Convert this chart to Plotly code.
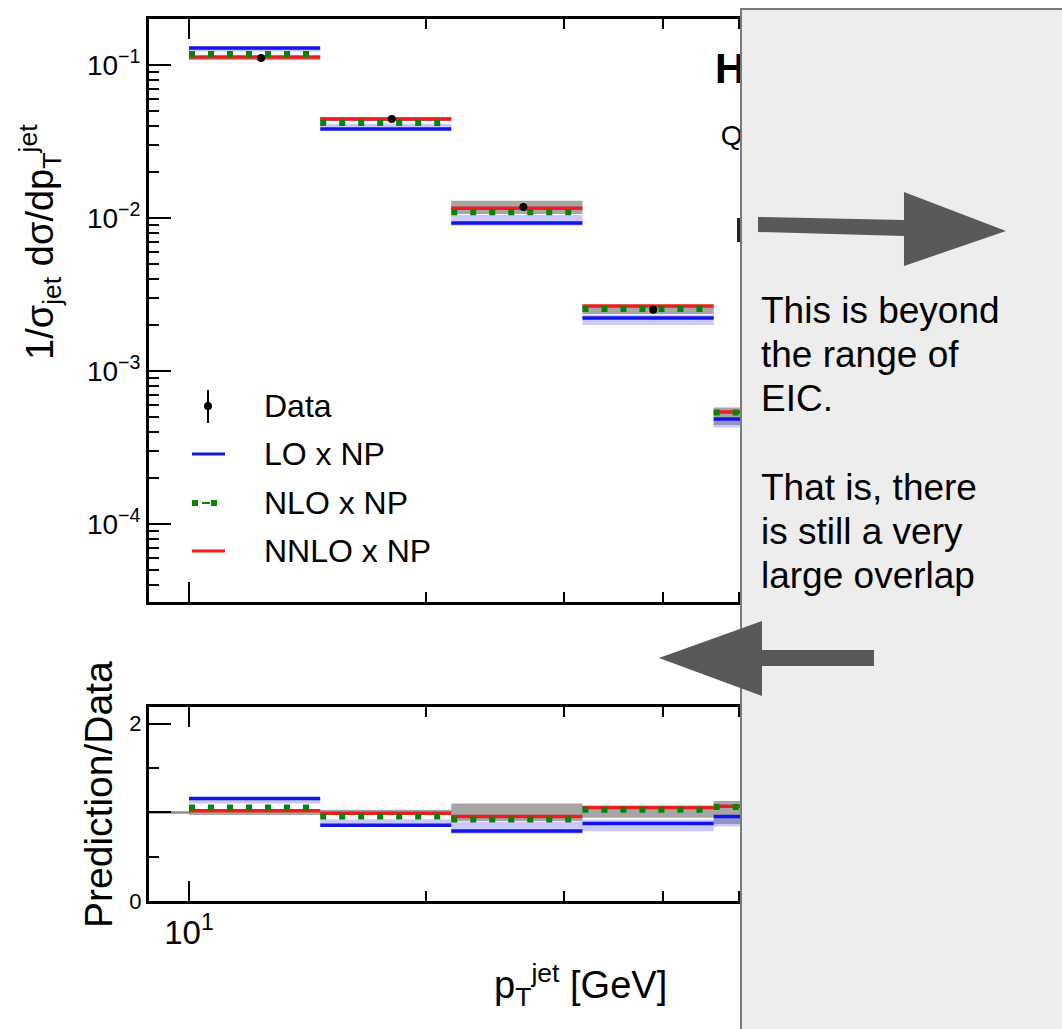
import plotly.graph_objects as go

# ---------------- data ----------------
bin_edges = [10.0, 14.68, 21.54, 31.62, 46.42, 68.13]
data_pt = [12.35, 18.1, 26.6, 38.9, 56.5]
data_val = [0.111, 0.0444, 0.0118, 0.00251, 0.00051]
data_stat = [0.0015, 0.0006, 0.0002, 0.00006, 0.00002]
data_unc = [0.03, 0.03, 0.10, 0.06, 0.13]          # relative syst. band

lo_val = [0.129, 0.0382, 0.00927, 0.00222, 0.000485]
nlo_val = [0.118, 0.0418, 0.0109, 0.00254, 0.000535]
nnlo_val = [0.113, 0.0443, 0.0116, 0.00266, 0.00054]

lo_ratio = [1.157, 0.854, 0.79, 0.876, 0.955]
nlo_ratio = [1.056, 0.955, 0.92, 1.03, 1.06]
nnlo_ratio = [1.02, 0.99, 0.955, 1.056, 1.07]

lo_band_lo = [0.95, 1.0, 0.96, 0.90, 0.88]
lo_band_hi = [1.0, 1.08, 1.13, 1.05, 1.0]

legend_labels = ["Data", "LO x NP", "NLO x NP", "NNLO x NP"]
box_lines = ["This is beyond", "the range of", "EIC.", "", "That is, there",
             "is still a very", "large overlap"]

# ---------------- geometry ----------------
W, H = 1062, 1029
ML, MR, MT, MB = 149, 62, 19, 128
PW, PH = W - ML - MR, H - MT - MB


def px(x):
    return (x - ML) / PW


def py(y):
    return (H - MB - y) / PH


FONT = "Liberation Sans, Arial, Helvetica, sans-serif"
BLUE, GREEN, RED = "#1414e6", "#0a820a", "#ee1c1c"
GREYBAND = "#a6a6a6"
LOBAND = "rgba(120,120,255,0.40)"


def steps(vals):
    xs, ys = [], []
    for i, v in enumerate(vals):
        xs += [bin_edges[i], bin_edges[i + 1], None]
        ys += [v, v, None]
    return xs, ys


def rects(lows, highs):
    xs, ys = [], []
    for i, (a, b) in enumerate(zip(lows, highs)):
        x0, x1 = bin_edges[i], bin_edges[i + 1]
        xs += [x0, x1, x1, x0, x0, None]
        ys += [a, a, b, b, a, None]
    return xs, ys


fig = go.Figure()


def add_panel(xa, ya, dvals, lo, nlo, nnlo, lo_ref):
    bx, by = rects([v * (1 - e) for v, e in zip(dvals, data_unc)],
                   [v * (1 + e) for v, e in zip(dvals, data_unc)])
    fig.add_trace(go.Scatter(x=bx, y=by, fill="toself", fillcolor=GREYBAND,
                             line=dict(width=0), mode="lines", xaxis=xa, yaxis=ya,
                             showlegend=False, hoverinfo="skip"))
    bx, by = rects([v * f for v, f in zip(lo_ref, lo_band_lo)],
                   [v * f for v, f in zip(lo_ref, lo_band_hi)])
    fig.add_trace(go.Scatter(x=bx, y=by, fill="toself", fillcolor=LOBAND,
                             line=dict(width=0), mode="lines", xaxis=xa, yaxis=ya,
                             showlegend=False, hoverinfo="skip"))
    for vals, col, dash, wd in [(lo, BLUE, "solid", 3.5), (nnlo, RED, "solid", 3.5),
                                (nlo, GREEN, "6px,13px", 6)]:
        sx, sy = steps(vals)
        fig.add_trace(go.Scatter(x=sx, y=sy, mode="lines",
                                 line=dict(color=col, width=wd, dash=dash),
                                 xaxis=xa, yaxis=ya, showlegend=False))


add_panel("x", "y", data_val, lo_val, nlo_val, nnlo_val, lo_val)
add_panel("x2", "y2", [1.0] * len(data_val), lo_ratio, nlo_ratio, nnlo_ratio, lo_ratio)

fig.add_trace(go.Scatter(x=data_pt, y=data_val, mode="markers",
                         marker=dict(color="black", size=8),
                         error_y=dict(type="data", array=data_stat, color="black",
                                      thickness=2, width=0),
                         xaxis="x", yaxis="y", showlegend=False))

# labels partly hidden behind the grey box
fig.add_trace(go.Scatter(x=[46.6], y=[0.089], mode="text", text=["<b>H1</b>"],
                         textposition="middle right",
                         textfont=dict(size=42, color="black", family=FONT),
                         xaxis="x", yaxis="y", showlegend=False))
fig.add_trace(go.Scatter(x=[47.4], y=[0.0335], mode="text",
                         text=["Q<sup>2</sup> > 150 GeV<sup>2</sup>"],
                         textposition="middle right",
                         textfont=dict(size=28, color="black", family=FONT),
                         xaxis="x", yaxis="y", showlegend=False))

# ---------------- axes ----------------
axis_common = dict(showline=True, linewidth=3, linecolor="black", mirror="ticks",
                   ticks="inside", tickwidth=2, tickcolor="black", showgrid=False,
                   zeroline=False)
x_minor = [20, 30, 40, 50, 60, 70, 80, 90]
y_minor = [m * 10 ** e for e in (-5, -4, -3, -2, -1) for m in range(2, 10)]

fig.update_layout(
    width=W, height=H, margin=dict(l=ML, r=MR, t=MT, b=MB),
    paper_bgcolor="white", plot_bgcolor="white", showlegend=False,
    font=dict(family=FONT, color="black"),
    xaxis=dict(axis_common, domain=[0, 1], anchor="y", type="log",
               range=[0.9492, 2.0305], tickvals=[10, 100], ticklen=20,
               showticklabels=False,
               minor=dict(tickmode="array", tickvals=x_minor, ticklen=10,
                          tickwidth=2, ticks="inside", tickcolor="black")),
    yaxis=dict(axis_common, domain=[0.339, 1], anchor="x", type="log",
               range=[-4.5098, -0.6993], tickvals=[1e-4, 1e-3, 1e-2, 1e-1],
               ticktext=["10<sup>−4</sup>", "10<sup>−3</sup>", "10<sup>−2</sup>",
                         "10<sup>−1</sup>"],
               ticklen=22, tickfont=dict(size=28, family=FONT, color="black"),
               minor=dict(tickmode="array", tickvals=y_minor, ticklen=10,
                          tickwidth=2, ticks="inside", tickcolor="black")),
    xaxis2=dict(axis_common, domain=[0, 1], anchor="y2", type="log",
                range=[0.9492, 2.0305], tickvals=[10, 100],
                ticktext=["10<sup>1</sup>", "10<sup>2</sup>"], ticklen=20,
                tickfont=dict(size=33, family=FONT, color="black"),
                minor=dict(tickmode="array", tickvals=x_minor, ticklen=10,
                           tickwidth=2, ticks="inside", tickcolor="black")),
    yaxis2=dict(axis_common, domain=[0, 0.22], anchor="x2", range=[0, 2.19],
                tickvals=[0, 1, 2], ticktext=["0", "", "2"], ticklen=22,
                tickfont=dict(size=22, family=FONT, color="black"),
                minor=dict(tickmode="array", tickvals=[0.5, 1.5], ticklen=10,
                           tickwidth=2, ticks="inside", tickcolor="black")),
)

shapes = []
shapes.append(dict(type="line", xref="x2 domain", yref="y2", x0=0, x1=1, y0=1, y1=1,
                   line=dict(color="#8c8c8c", width=2.5), layer="below"))

# legend glyphs
shapes += [
    dict(type="line", xref="paper", yref="paper", x0=px(208), x1=px(208),
         y0=py(390), y1=py(423), line=dict(color="black", width=2)),
    dict(type="circle", xref="paper", yref="paper", x0=px(204), x1=px(212),
         y0=py(402), y1=py(410), fillcolor="black", line=dict(width=0)),
    dict(type="line", xref="paper", yref="paper", x0=px(192), x1=px(225),
         y0=py(454), y1=py(454), line=dict(color=BLUE, width=3)),
    dict(type="rect", xref="paper", yref="paper", x0=px(192), x1=px(198),
         y0=py(500), y1=py(506), fillcolor=GREEN, line=dict(width=0)),
    dict(type="line", xref="paper", yref="paper", x0=px(202), x1=px(210),
         y0=py(503), y1=py(503), line=dict(color=GREEN, width=2)),
    dict(type="rect", xref="paper", yref="paper", x0=px(211), x1=px(217),
         y0=py(500), y1=py(506), fillcolor=GREEN, line=dict(width=0)),
    dict(type="line", xref="paper", yref="paper", x0=px(192), x1=px(225),
         y0=py(551), y1=py(551), line=dict(color=RED, width=3)),
]
shapes.append(dict(type="line", xref="paper", yref="paper", x0=px(738.5), x1=px(738.5),
                   y0=py(218), y1=py(242), line=dict(color="#222222", width=3)))

# grey overlay box
shapes.append(dict(type="rect", xref="paper", yref="paper", x0=px(741), x1=px(1075),
                   y0=py(1045), y1=py(9), fillcolor="#ededed",
                   line=dict(color="#7a7a7a", width=2), layer="above"))


def poly(points):
    return "M " + " L ".join(f"{px(a):.5f},{py(b):.5f}" for a, b in points) + " Z"


shapes.append(dict(type="path", xref="paper", yref="paper",
                   path=poly([(758, 217), (904, 220), (904, 192), (1006, 231),
                              (904, 266), (904, 236), (758, 232)]),
                   fillcolor="#595959", line=dict(width=0), layer="above"))
shapes.append(dict(type="path", xref="paper", yref="paper",
                   path=poly([(659, 658), (762, 621), (762, 650), (874, 650),
                              (874, 666), (762, 666), (762, 696)]),
                   fillcolor="#595959", line=dict(width=0), layer="above"))
fig.update_layout(shapes=shapes)

ann = []
for lab, yy in zip(legend_labels, [406, 454, 503, 551]):
    ann.append(dict(text=lab, xref="paper", yref="paper", x=px(262), y=py(yy),
                    xanchor="left", yanchor="middle", showarrow=False,
                    font=dict(size=32, family=FONT, color="black")))

for i, line in enumerate(box_lines):
    if not line:
        continue
    base = 322 + i * 44.3
    ann.append(dict(text=line, xref="paper", yref="paper", x=px(759), y=py(base - 12),
                    xanchor="left", yanchor="middle", showarrow=False,
                    font=dict(size=37, family=FONT, color="black")))

ann.append(dict(text="1/σ<sub>jet</sub> dσ/dp<sub>T</sub><sup>jet</sup>",
                xref="paper", yref="paper", x=px(40), y=py(242), textangle=-90,
                xanchor="center", yanchor="middle", showarrow=False,
                font=dict(size=38, family=FONT, color="black")))
ann.append(dict(text="Prediction/Data", xref="paper", yref="paper", x=px(98),
                y=py(795), textangle=-90, xanchor="center", yanchor="middle",
                showarrow=False, font=dict(size=39, family=FONT, color="black")))
ann.append(dict(text="p<sub>T</sub><sup>jet</sup> [GeV]", xref="paper", yref="paper",
                x=px(580), y=py(985), xanchor="center", yanchor="middle",
                showarrow=False, font=dict(size=38, family=FONT, color="black")))
fig.update_layout(annotations=ann)

fig.write_html("out.html", config={"displayModeBar": False},
               post_script="document.body.style.margin='0px';")
